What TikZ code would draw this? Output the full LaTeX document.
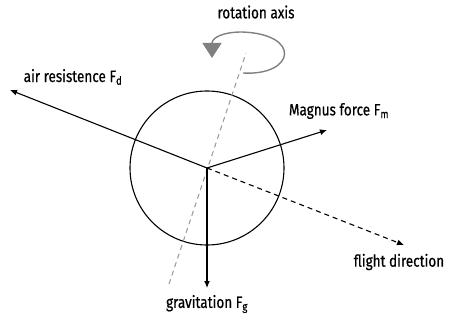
\documentclass[tikz,border=0pt]{standalone}
\usepackage{fontspec}
\setmainfont{Fira Sans}[FakeStretch=0.82,FakeBold=0.6]
\usetikzlibrary{arrows.meta}
\begin{document}
\begin{tikzpicture}[x=1pt,y=-1pt,
  vec/.style={line width=1.1pt,-{Latex[length=7pt,width=6pt]}},
  lbl/.style={font=\fontsize{16.5}{18}\selectfont,inner sep=0pt},
  axisline/.style={gray!80,dashed,line width=1pt,dash pattern=on 5pt off 4pt}]
\useasboundingbox (0,0) rectangle (449,320);
\coordinate (c) at (207,168);
\node[draw,circle,line width=1.1pt,minimum size=154pt,inner sep=0pt] (ball) at (c) {};
\coordinate (axtop) at (246,53);
\coordinate (axbot) at (169,284);
\draw[axisline] (axbot) -- (axtop);
\coordinate (rs) at (243,73);
\coordinate (re) at (212,58);
\draw[gray,line width=1.4pt,-{Triangle[length=15pt,width=19pt]}] (rs) .. controls (295,76) and (302,34) .. (242,32) .. controls (222,32) and (212,38) .. (re);
\coordinate (tfd) at (10,90);
\coordinate (tfm) at (327,130);
\coordinate (tfg) at (207,288);
\coordinate (tfl) at (404,245);
\draw[vec] (c) -- (tfd);
\draw[vec] (c) -- (tfm);
\draw[vec] (c) -- (tfg);
\draw[vec,dashed,dash pattern=on 5pt off 4pt] (c) -- (tfl);
\node[lbl] (lrot) at (256,12) {rotation axis};
\node[lbl] (lfd) at (73,77) {air resistence F\textsubscript{d}};
\node[lbl] (lfm) at (339,111) {Magnus force F\textsubscript{m}};
\node[lbl] (lfl) at (399,262) {flight direction};
\node[lbl] (lfg) at (207,304) {gravitation F\textsubscript{g}};
\end{tikzpicture}
\end{document}
